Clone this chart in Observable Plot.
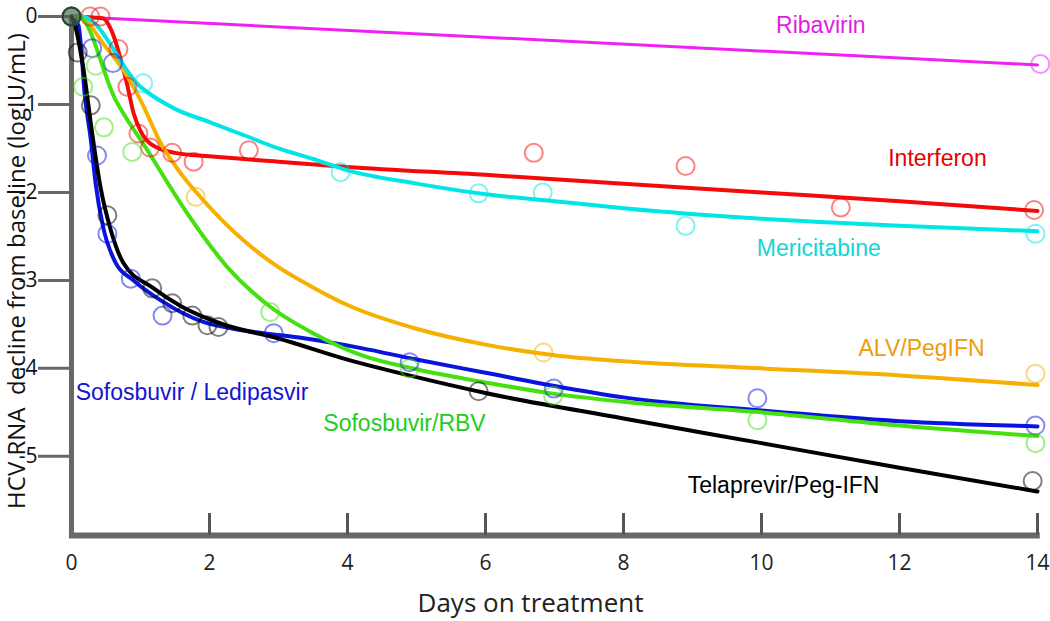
<!DOCTYPE html>
<html><head><meta charset="utf-8">
<script src="https://cdn.jsdelivr.net/npm/d3@7"></script>
<script src="https://cdn.jsdelivr.net/npm/@observablehq/plot@0.6"></script>
<style>body{margin:0;background:#fff} svg{display:block}</style>
</head><body><div id="chart"></div>
<script>
// ---- data ----
const seriesNames = ["Ribavirin","Interferon","ALV/PegIFN","Mericitabine","Sofosbuvir / Ledipasvir","Sofosbuvir/RBV","Telaprevir/Peg-IFN"];
const lineColors  = ["#f020f0","#f50a0a","#f5b000","#00e6e6","#0a14e0","#44e010","#000000"];
const textColors  = ["#e01ee0","#e80000","#f09a0c","#10d6d6","#1414d2","#22cc22","#000000"];

// fitted curves [day, log decline]
const ribavirinCurve = [[0,0],[14,-0.55]];
const interferonCurve = [[0,0],[0.45,-0.02],[0.6,-0.2],[0.7,-0.45],[0.8,-0.75],[0.9,-1.1],[1.0,-1.3],[1.15,-1.45],[1.5,-1.55],[2,-1.59],[3,-1.65],[4,-1.71],[6,-1.8],[8,-1.9],[10,-2.0],[12,-2.1],[14,-2.21]];
const alvCurve = [[0,0],[0.1,0],[0.5,-0.35],[0.7,-0.55],[1,-0.95],[1.3,-1.45],[1.6,-1.8],[1.9,-2.08],[2.5,-2.55],[3,-2.85],[3.5,-3.08],[4,-3.28],[5,-3.55],[6,-3.73],[7,-3.85],[8,-3.92],[10,-4.0],[12,-4.08],[14,-4.19]];
const mericitabineCurve = [[0,0],[0.15,0],[1.0,-0.8],[1.5,-1.05],[2,-1.2],[2.5,-1.35],[3,-1.5],[3.5,-1.62],[4,-1.75],[5,-1.9],[6,-2.02],[7,-2.1],[8,-2.18],[10,-2.3],[12,-2.38],[14,-2.44]];
const sofLdvCurve = [[0,0],[0.1,-0.1],[0.2,-0.95],[0.28,-1.4],[0.35,-1.9],[0.46,-2.4],[0.64,-2.8],[0.9,-3.0],[1.3,-3.23],[1.9,-3.47],[2.5,-3.57],[3.3,-3.65],[4.2,-3.77],[5,-3.9],[6,-4.05],[7,-4.2],[8,-4.33],[10,-4.48],[12,-4.6],[14,-4.66]];
const sofRbvCurve = [[0,0],[0.1,0],[0.64,-0.95],[1.1,-1.52],[1.68,-2.24],[2.26,-2.85],[2.88,-3.3],[3.5,-3.6],[4.2,-3.85],[5,-4.01],[6,-4.16],[7,-4.29],[8,-4.38],[10,-4.5],[12,-4.65],[14,-4.77]];
const telaprevirCurve = [[0,0],[0.05,-0.1],[0.17,-0.58],[0.3,-1.33],[0.42,-1.94],[0.57,-2.43],[0.75,-2.8],[1.17,-3.08],[1.6,-3.3],[2.16,-3.49],[3,-3.66],[4,-3.9],[5,-4.1],[6,-4.28],[8,-4.57],[10,-4.85],[12,-5.13],[14,-5.4]];

// observed values [day, log decline]
const ribavirinObs = [[0,0],[14.04,-0.54]];
const interferonObs = [[0,0],[0.27,0],[0.42,0],[0.68,-0.37],[0.81,-0.8],[0.97,-1.33],[1.14,-1.49],[1.46,-1.55],[1.77,-1.65],[2.57,-1.52],[6.7,-1.55],[8.9,-1.7],[11.15,-2.17],[13.95,-2.2]];
const alvObs = [[0,0],[1.8,-2.05],[6.84,-3.82],[13.97,-4.06]];
const mericitabineObs = [[0,0],[1.04,-0.76],[3.9,-1.77],[5.9,-2.01],[6.83,-2.0],[8.9,-2.38],[13.97,-2.47]];
const sofLdvObs = [[0,0],[0.3,-0.36],[0.6,-0.53],[0.37,-1.58],[0.52,-2.47],[0.86,-2.98],[1.32,-3.4],[2.93,-3.6],[4.9,-3.93],[6.99,-4.23],[9.94,-4.34],[13.97,-4.65]];
const sofRbvObs = [[0,0],[0.17,-0.8],[0.35,-0.56],[0.47,-1.26],[0.88,-1.54],[2.88,-3.36],[4.9,-4.0],[6.98,-4.31],[9.94,-4.59],[13.97,-4.85]];
const telaprevirObs = [[0,0],[0.09,-0.41],[0.28,-1.01],[0.52,-2.26],[1.17,-3.09],[1.46,-3.26],[1.75,-3.4],[1.97,-3.51],[2.13,-3.53],[5.9,-4.26],[13.93,-5.28]];

// series label anchors [day, value, textAnchor]
const labelPos = [[10.86,-0.10,"middle"],[12.55,-1.61,"middle"],[12.32,-3.77,"middle"],[10.83,-2.64,"middle"],[0.06,-4.28,"start"],[3.65,-4.63,"start"],[10.32,-5.33,"middle"]];

const xTicks = [0,2,4,6,8,10,12,14];
const xTickMarks = [2,4,6,8,10,12,14];
const yTicks = [0,-1,-2,-3,-4,-5];
const yTitle = "HCV RNA\u00a0 decline from baseline (logIU/mL)";
const xTitle = "Days on treatment";

// ---- build tables ----
const curves = [ribavirinCurve, interferonCurve, alvCurve, mericitabineCurve, sofLdvCurve, sofRbvCurve, telaprevirCurve];
const obs = [ribavirinObs, interferonObs, alvObs, mericitabineObs, sofLdvObs, sofRbvObs, telaprevirObs];
const lineRows = [], obsRows = [];
curves.forEach((c, i) => c.forEach(([d, v]) => lineRows.push({s: seriesNames[i], i, day: d, val: v})));
obs.forEach((c, i) => c.forEach(([d, v]) => obsRows.push({s: seriesNames[i], i, day: d, val: v})));
const labelRows = labelPos.map(([d, v, a], i) => ({s: seriesNames[i], i, day: d, val: v, anchor: a}));

const yBottom = -5.9;
const axisGray = "#686868";

const marks = [
  // axes lines
  Plot.ruleY([yBottom], {x1: -0.03, x2: 14.04, stroke: axisGray, strokeWidth: 6}),
  Plot.ruleX([0], {y1: 0, y2: yBottom, stroke: axisGray, strokeWidth: 5}),
  Plot.ruleX(xTickMarks, {y1: yBottom, y2: yBottom + 0.25, stroke: "#555", strokeWidth: 3}),
  Plot.axisY({ticks: yTicks, tickSize: 33, tickPadding: 1, stroke: axisGray, strokeWidth: 3, strokeOpacity: 1,
    tickFormat: d => String(d), fontSize: 21, fill: "#111", label: null}),
  Plot.axisX({ticks: xTicks, tickSize: 0, tickPadding: 20, fontSize: 21, fill: "#222", label: null, tickFormat: d => String(d)}),
  Plot.text([yTitle], {frameAnchor: "left", textAnchor: "middle", rotate: -90, dx: -54, dy: -5, fontSize: 24, fill: "#111"}),
  Plot.text([xTitle], {frameAnchor: "bottom", dx: -24, dy: 76, fontSize: 26, fill: "#222"}),
];
seriesNames.forEach((name, i) => {
  marks.push(Plot.line(lineRows.filter(r => r.i === i), {x: "day", y: "val", stroke: lineColors[i],
    strokeWidth: i === 0 ? 3 : 4, curve: "monotone-x"}));
});
marks.push(Plot.dot(obsRows, {x: "day", y: "val", r: 9, stroke: d => lineColors[d.i], strokeWidth: 2, strokeOpacity: 0.5,
  fill: d => d.day === 0 ? lineColors[d.i] : "none", fillOpacity: 0.15}));
labelRows.forEach(l => {
  marks.push(Plot.text([l], {x: "day", y: "val", text: "s", fill: textColors[l.i], fontSize: 23,
    textAnchor: l.anchor, fontFamily: "Liberation Sans, Arial, sans-serif"}));
});

const chart = Plot.plot({
  width: 1050, height: 621,
  marginTop: 16, marginBottom: 86, marginLeft: 71, marginRight: 13,
  style: {fontFamily: "'Open Sans', sans-serif", background: "#fff"},
  x: {domain: [0, 14]},
  y: {domain: [yBottom, 0]},
  marks
});
document.getElementById("chart").appendChild(chart);
</script></body></html>
